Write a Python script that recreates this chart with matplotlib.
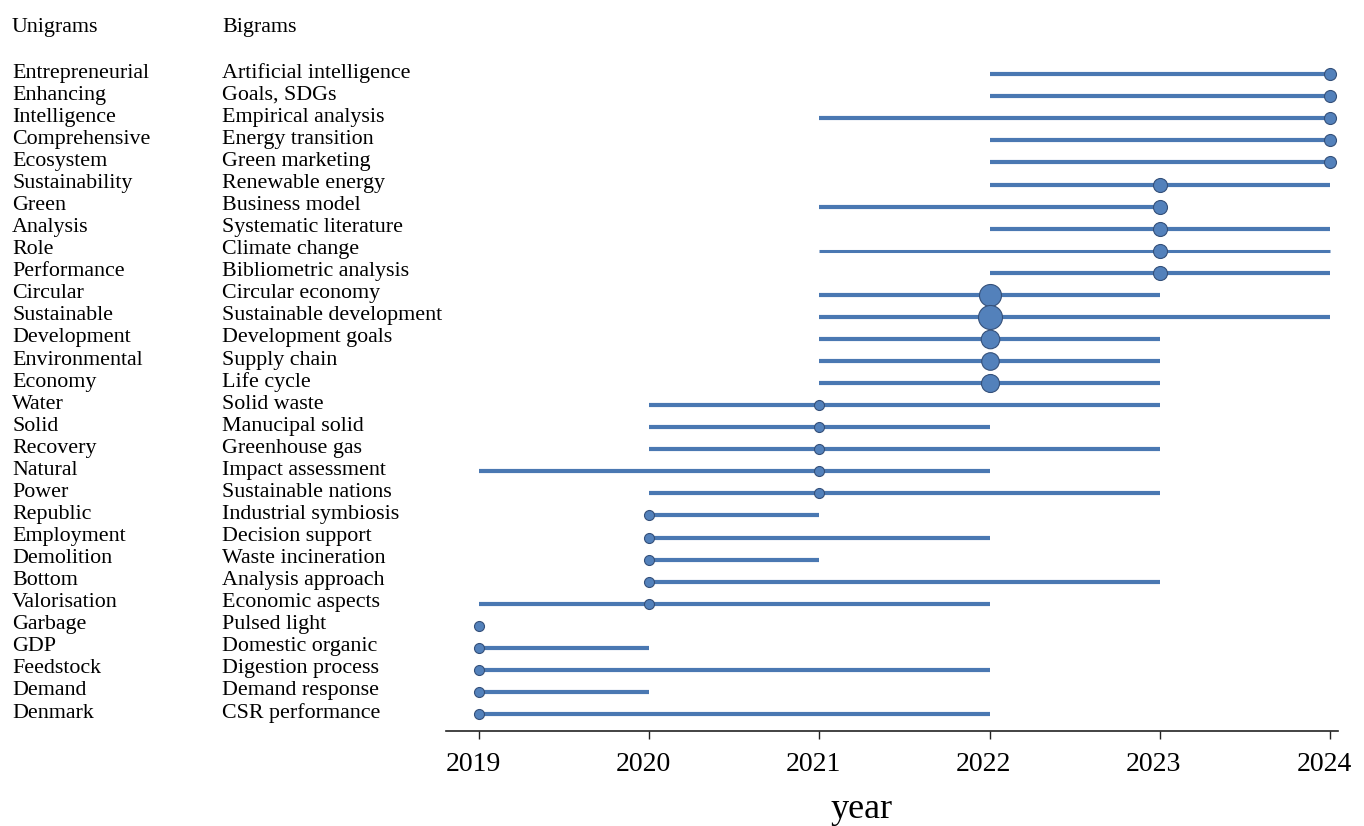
import matplotlib
matplotlib.use("Agg")
import matplotlib.pyplot as plt
from matplotlib.transforms import blended_transform_factory, ScaledTranslation

plt.rcParams["font.family"] = ["Liberation Serif", "DejaVu Serif"]

# Trending terms, top row first
unigrams = [
    "Entrepreneurial", "Enhancing", "Intelligence", "Comprehensive", "Ecosystem",
    "Sustainability", "Green", "Analysis", "Role", "Performance",
    "Circular", "Sustainable", "Development", "Environmental", "Economy",
    "Water", "Solid", "Recovery", "Natural", "Power",
    "Republic", "Employment", "Demolition", "Bottom", "Valorisation",
    "Garbage", "GDP", "Feedstock", "Demand", "Denmark",
]
bigrams = [
    "Artificial intelligence", "Goals, SDGs", "Empirical analysis", "Energy transition",
    "Green marketing", "Renewable energy", "Business model", "Systematic literature",
    "Climate change", "Bibliometric analysis", "Circular economy",
    "Sustainable development", "Development goals", "Supply chain", "Life cycle",
    "Solid waste", "Manucipal solid", "Greenhouse gas", "Impact assessment",
    "Sustainable nations", "Industrial symbiosis", "Decision support",
    "Waste incineration", "Analysis approach", "Economic aspects", "Pulsed light",
    "Domestic organic", "Digestion process", "Demand response", "CSR performance",
]
year_start = [
    2022, 2022, 2021, 2022, 2022, 2022, 2021, 2022, 2021, 2022,
    2021, 2021, 2021, 2021, 2021, 2020, 2020, 2020, 2019, 2020,
    2020, 2020, 2020, 2020, 2019, 2019, 2019, 2019, 2019, 2019,
]
year_end = [
    2024, 2024, 2024, 2024, 2024, 2024, 2023, 2024, 2024, 2024,
    2023, 2024, 2023, 2023, 2023, 2023, 2022, 2023, 2022, 2023,
    2021, 2022, 2021, 2023, 2022, 2019, 2020, 2022, 2020, 2022,
]
year_peak = [
    2024, 2024, 2024, 2024, 2024, 2023, 2023, 2023, 2023, 2023,
    2022, 2022, 2022, 2022, 2022, 2021, 2021, 2021, 2021, 2021,
    2020, 2020, 2020, 2020, 2020, 2019, 2019, 2019, 2019, 2019,
]
# relative term frequency in the peak year (drives dot area)
peak_freq = [
    36, 36, 36, 36, 36, 49, 49, 49, 49, 49,
    121, 144, 86, 77, 81, 25, 25, 25, 25, 25,
    25, 25, 25, 25, 25, 25, 25, 25, 25, 25,
]
years = [2019, 2020, 2021, 2022, 2023, 2024]

LINE_COLOR = "#4a78b2"
DOT_FACE = "#5381bb"
DOT_EDGE = "#34507a"
thin_terms = {"Climate change"}

fig = plt.figure(figsize=(13.64, 8.26), dpi=100)
ax = fig.add_axes([0.327, 0.115, 0.654, 0.8245])

n = len(bigrams)
rows = [n - i for i in range(n)]

for y, term, x0, x1, xp, f in zip(rows, bigrams, year_start, year_end, year_peak, peak_freq):
    lw = 2.2 if term in thin_terms else 3.0
    if x1 > x0:
        ax.plot([x0, x1], [y, y], color=LINE_COLOR, lw=lw,
                solid_capstyle="butt", zorder=2)
    diam_px = 2 * f ** 0.5
    ax.plot([xp], [y], marker="o", linestyle="none",
            markersize=diam_px * 0.72, markerfacecolor=DOT_FACE,
            markeredgecolor=DOT_EDGE, markeredgewidth=0.8, zorder=3)

ax.set_xlim(2018.806, 2024.047)
ax.set_ylim(0.229, 31.10)
ax.set_xticks(years)
ax.set_xticklabels([str(v) for v in years], fontsize=20)
ax.tick_params(axis="x", direction="out", length=6, width=1.0, pad=9, color="#222222")
# year labels sit a touch left of their ticks
shift = ScaledTranslation(-6 / 100, 0, fig.dpi_scale_trans)
for lbl in ax.get_xticklabels():
    lbl.set_transform(lbl.get_transform() + shift)
ax.set_yticks([])
for side in ("left", "right", "top"):
    ax.spines[side].set_visible(False)
ax.spines["bottom"].set_linewidth(1.2)
ax.spines["bottom"].set_color("#222222")

# term columns to the left of the timeline
trans = blended_transform_factory(fig.transFigure, ax.transData)
for y, uni, bi in zip(rows, unigrams, bigrams):
    ax.text(12 / 1364, y - 0.16, uni, transform=trans, fontsize=15.8,
            ha="left", va="baseline", clip_on=False)
    ax.text(222 / 1364, y - 0.16, bi, transform=trans, fontsize=15.8,
            ha="left", va="baseline", clip_on=False)

fig.text(12 / 1364, 1 - 32 / 826, "Unigrams", fontsize=15.8, ha="left", va="baseline")
fig.text(222 / 1364, 1 - 32 / 826, "Bigrams", fontsize=15.8, ha="left", va="baseline")
fig.text(862 / 1364, 1 - 818 / 826, "year", fontsize=26, ha="center", va="baseline")

fig.savefig("out.png", dpi=100, facecolor="white")
